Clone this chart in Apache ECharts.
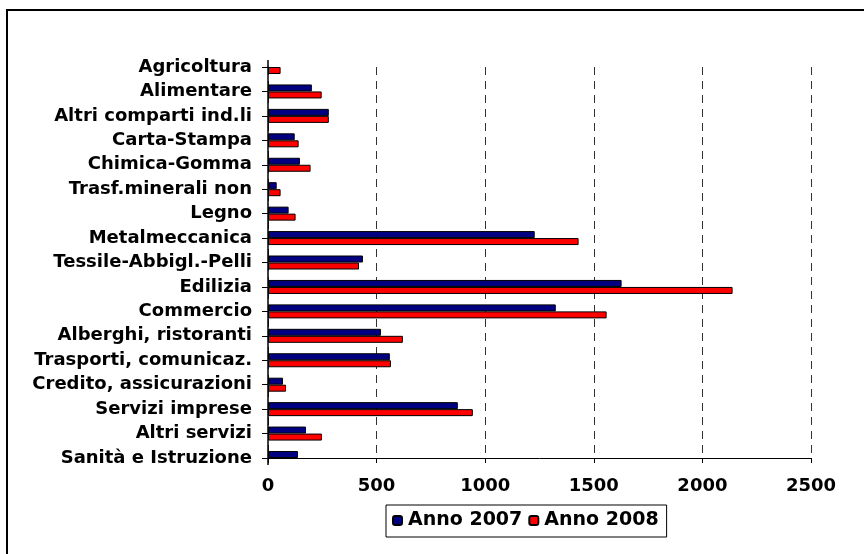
<!DOCTYPE HTML>
<html lang="it">
  <head>
    <meta charset="utf-8" />
    <script src="https://cdn.jsdelivr.net/npm/echarts@6/dist/echarts.min.js"></script>
    <style>
      html, body {
        height: 100%;
        padding: 0;
        margin: 0;
        background: #fff;
      }
      #chart {
        width: 864px;
        height: 554px;
      }
    </style>
  </head>
  <body>
    <div id="chart"></div>
    <script>
      // settori
      var categories = ['Agricoltura', 'Alimentare', 'Altri comparti ind.li', 'Carta-Stampa',
        'Chimica-Gomma', 'Trasf.minerali non', 'Legno', 'Metalmeccanica', 'Tessile-Abbigl.-Pelli',
        'Edilizia', 'Commercio', 'Alberghi, ristoranti', 'Trasporti, comunicaz.',
        'Credito, assicurazioni', 'Servizi imprese', 'Altri servizi', 'Sanità e Istruzione'];
      var anno2007 = [0, 202, 280, 123, 147, 40, 95, 1228, 437, 1628, 1325, 520, 561, 69, 874, 175, 138];
      var anno2008 = [58, 247, 280, 141, 196, 58, 127, 1430, 419, 2139, 1559, 621, 566, 83, 943, 248, 0];
      var xTicks = [0, 500, 1000, 1500, 2000, 2500];

      var font = 'DejaVu Sans, Verdana, sans-serif';
      var myChart = echarts.init(document.getElementById('chart'));

      var option = {
        animation: false,
        textStyle: { fontFamily: font },
        grid: { left: 268, right: 53, top: 67, bottom: 96, containLabel: false },
        legend: {
          top: 505,
          left: 386,
          itemWidth: 9,
          itemHeight: 9,
          itemGap: 6,
          padding: [6, 8, 7, 6],
          borderColor: '#000',
          borderWidth: 1,
          textStyle: { fontFamily: font, fontWeight: 'bold', fontSize: 19, color: '#000', padding: [0, 0, 0, 1] },
          data: ['Anno 2007', 'Anno 2008']
        },
        xAxis: {
          type: 'value',
          min: xTicks[0],
          max: xTicks[xTicks.length - 1],
          interval: 500,
          axisLine: { show: true, lineStyle: { color: '#000', width: 1 } },
          axisTick: { show: true, length: 5, lineStyle: { color: '#000' } },
          axisLabel: {
            fontFamily: font, fontWeight: 'bold', fontSize: 18, color: '#000', margin: 19,
            formatter: function (v) { return String(v); }
          },
          splitLine: { show: true, lineStyle: { color: '#333', type: [8, 6], width: 1 } }
        },
        yAxis: {
          type: 'category',
          data: categories,
          inverse: true,
          boundaryGap: false,
          axisLine: { show: true, lineStyle: { color: '#000', width: 1.5 } },
          axisTick: { show: true, length: 6, lineStyle: { color: '#000' } },
          axisLabel: { fontFamily: font, fontWeight: 'bold', fontSize: 18, color: '#000', margin: 16 },
          splitLine: { show: false }
        },
        series: [{
          name: 'Anno 2007',
          type: 'bar',
          data: anno2007,
          barWidth: 7,
          barGap: '0%',
          itemStyle: { color: '#000080', borderColor: '#000', borderWidth: 1 }
        }, {
          name: 'Anno 2008',
          type: 'bar',
          data: anno2008,
          barWidth: 7,
          barGap: '0%',
          itemStyle: { color: '#ff0000', borderColor: '#000', borderWidth: 1 }
        }],
        graphic: [{
          // cornice esterna
          type: 'rect',
          shape: { x: 7, y: 10, width: 900, height: 600 },
          style: { fill: 'none', stroke: '#000', lineWidth: 2 },
          silent: true
        }]
      };

      myChart.setOption(option);
    </script>
  </body>
</html>
